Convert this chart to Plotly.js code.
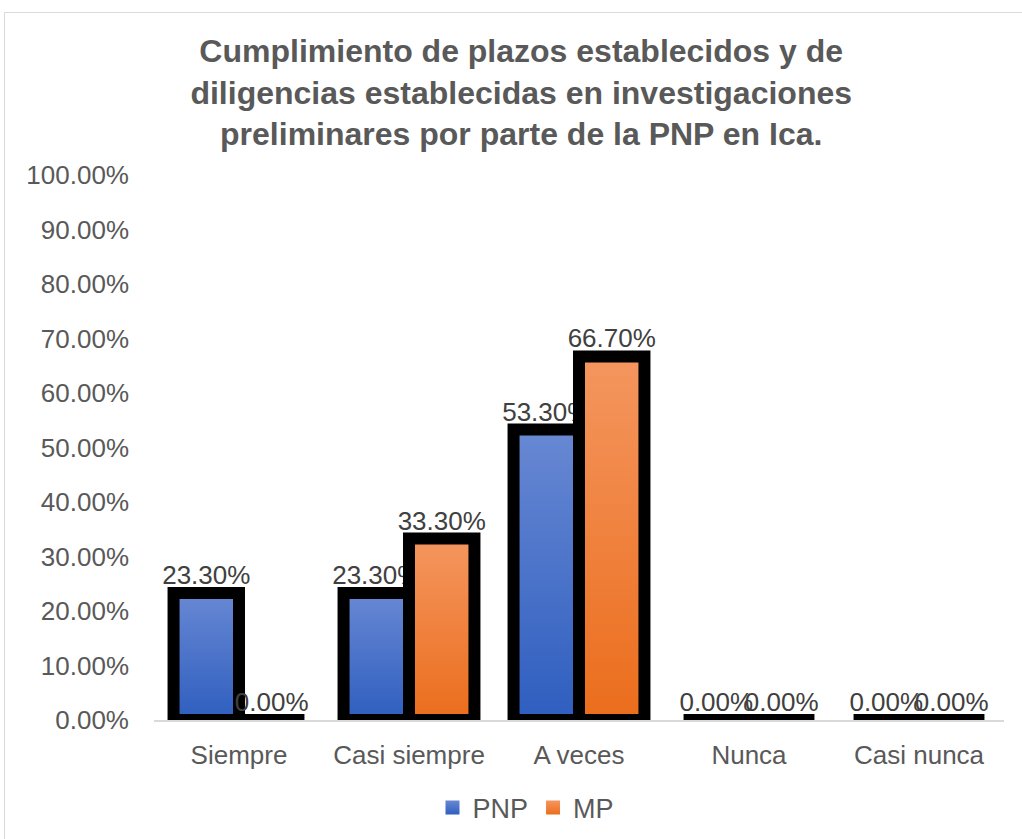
<!DOCTYPE html>
<html>
<head>
<meta charset="utf-8">
<script src="https://cdn.plot.ly/plotly-3.0.1.min.js"></script>
<style>
  body { margin: 0; background: #fff; }
  #chart { position: absolute; left: 0; top: 0; width: 1022px; height: 839px; }
  #frame { position: absolute; left: 4px; top: 12px; width: 1040px; height: 860px;
           border: 1px solid #d9d9d9; pointer-events: none; }
</style>
</head>
<body>
<div id="chart"></div>
<div id="frame"></div>
<script>
// categories and values
var categories = ['Siempre', 'Casi siempre', 'A veces', 'Nunca', 'Casi nunca'];
var pnp = [0.233, 0.233, 0.533, 0, 0];
var mp = [0, 0.333, 0.667, 0, 0];

var textColor = '#595959';
var font = 'Arial, "Liberation Sans", sans-serif';

function barTrace(name, values, color) {
    return {
        type: 'bar',
        name: name,
        x: categories,
        y: values,
        marker: { color: color, line: { color: '#000000', width: 12 } },
        texttemplate: '%{y:.2%}',
        textposition: 'outside',
        constraintext: 'none',
        cliponaxis: false,
        textfont: { size: 26, color: '#404040', family: font },
        hoverinfo: 'x+y+name'
    };
}

var data = [
    barTrace('PNP', pnp, '#4a74c9'),
    barTrace('MP', mp, '#ef7f36')
];

var layout = {
    width: 1022,
    height: 839,
    margin: { l: 154, r: 18, t: 175, b: 119 },
    paper_bgcolor: 'rgba(0,0,0,0)',
    plot_bgcolor: 'rgba(0,0,0,0)',
    font: { family: font, color: textColor, size: 26 },
    title: {
        text: 'Cumplimiento de plazos establecidos y de<br>diligencias establecidas en investigaciones<br>preliminares por parte de la PNP en Ica.',
        font: { size: 32, color: textColor, family: font, weight: 'bold' },
        x: 0.51,
        xanchor: 'center',
        yref: 'container',
        y: 1 - 62 / 839,
        yanchor: 'top'
    },
    barmode: 'group',
    bargap: 0.23,
    bargroupgap: 0,
    xaxis: {
        type: 'category',
        showline: true,
        linecolor: '#d9d9d9',
        linewidth: 2,
        ticks: '',
        tickfont: { size: 26, color: textColor },
        ticklabelstandoff: 11
    },
    yaxis: {
        range: [0, 1],
        dtick: 0.1,
        tickformat: '.2%',
        showgrid: false,
        zeroline: false,
        showline: false,
        ticks: '',
        tickfont: { size: 26, color: textColor },
        ticklabelstandoff: 24
    },
    showlegend: true,
    legend: {
        orientation: 'h',
        xref: 'container',
        yref: 'container',
        x: 526 / 1022,
        xanchor: 'center',
        y: 1 - 808 / 839,
        yanchor: 'middle',
        font: { size: 27, color: textColor },
        itemwidth: 30,
        traceorder: 'normal'
    }
};

// vertical gradient on the bar fills, like the original
function addGradients(gd) {
    var svg = gd.querySelector('svg.main-svg');
    var defs = svg.querySelector('defs');
    var ns = 'http://www.w3.org/2000/svg';
    var stops = { PNP: ['#6888d3', '#2e5ebf'], MP: ['#f4965f', '#eb6d1c'] };
    Object.keys(stops).forEach(function (key) {
        var g = document.createElementNS(ns, 'linearGradient');
        g.setAttribute('id', 'grad' + key);
        g.setAttribute('x1', '0'); g.setAttribute('y1', '0');
        g.setAttribute('x2', '0'); g.setAttribute('y2', '1');
        [0, 1].forEach(function (i) {
            var s = document.createElementNS(ns, 'stop');
            s.setAttribute('offset', i);
            s.setAttribute('stop-color', stops[key][i]);
            g.appendChild(s);
        });
        defs.appendChild(g);
    });
    var traces = gd.querySelectorAll('.barlayer .trace');
    traces.forEach(function (t, i) {
        var key = i === 0 ? 'PNP' : 'MP';
        t.querySelectorAll('path').forEach(function (p) {
            p.style.fill = 'url(#grad' + key + ')';
        });
    });
    // bigger legend squares
    var legendPts = gd.querySelectorAll('.legend .traces');
    legendPts.forEach(function (t, i) {
        var key = i === 0 ? 'PNP' : 'MP';
        t.querySelectorAll('.legendpoints path').forEach(function (p) {
            p.setAttribute('d', 'M7,7H-7V-7H7Z');
            p.style.fill = 'url(#grad' + key + ')';
            p.style.stroke = 'none';
        });
    });
}

Plotly.newPlot('chart', data, layout, { displayModeBar: false }).then(addGradients);
</script>
</body>
</html>
